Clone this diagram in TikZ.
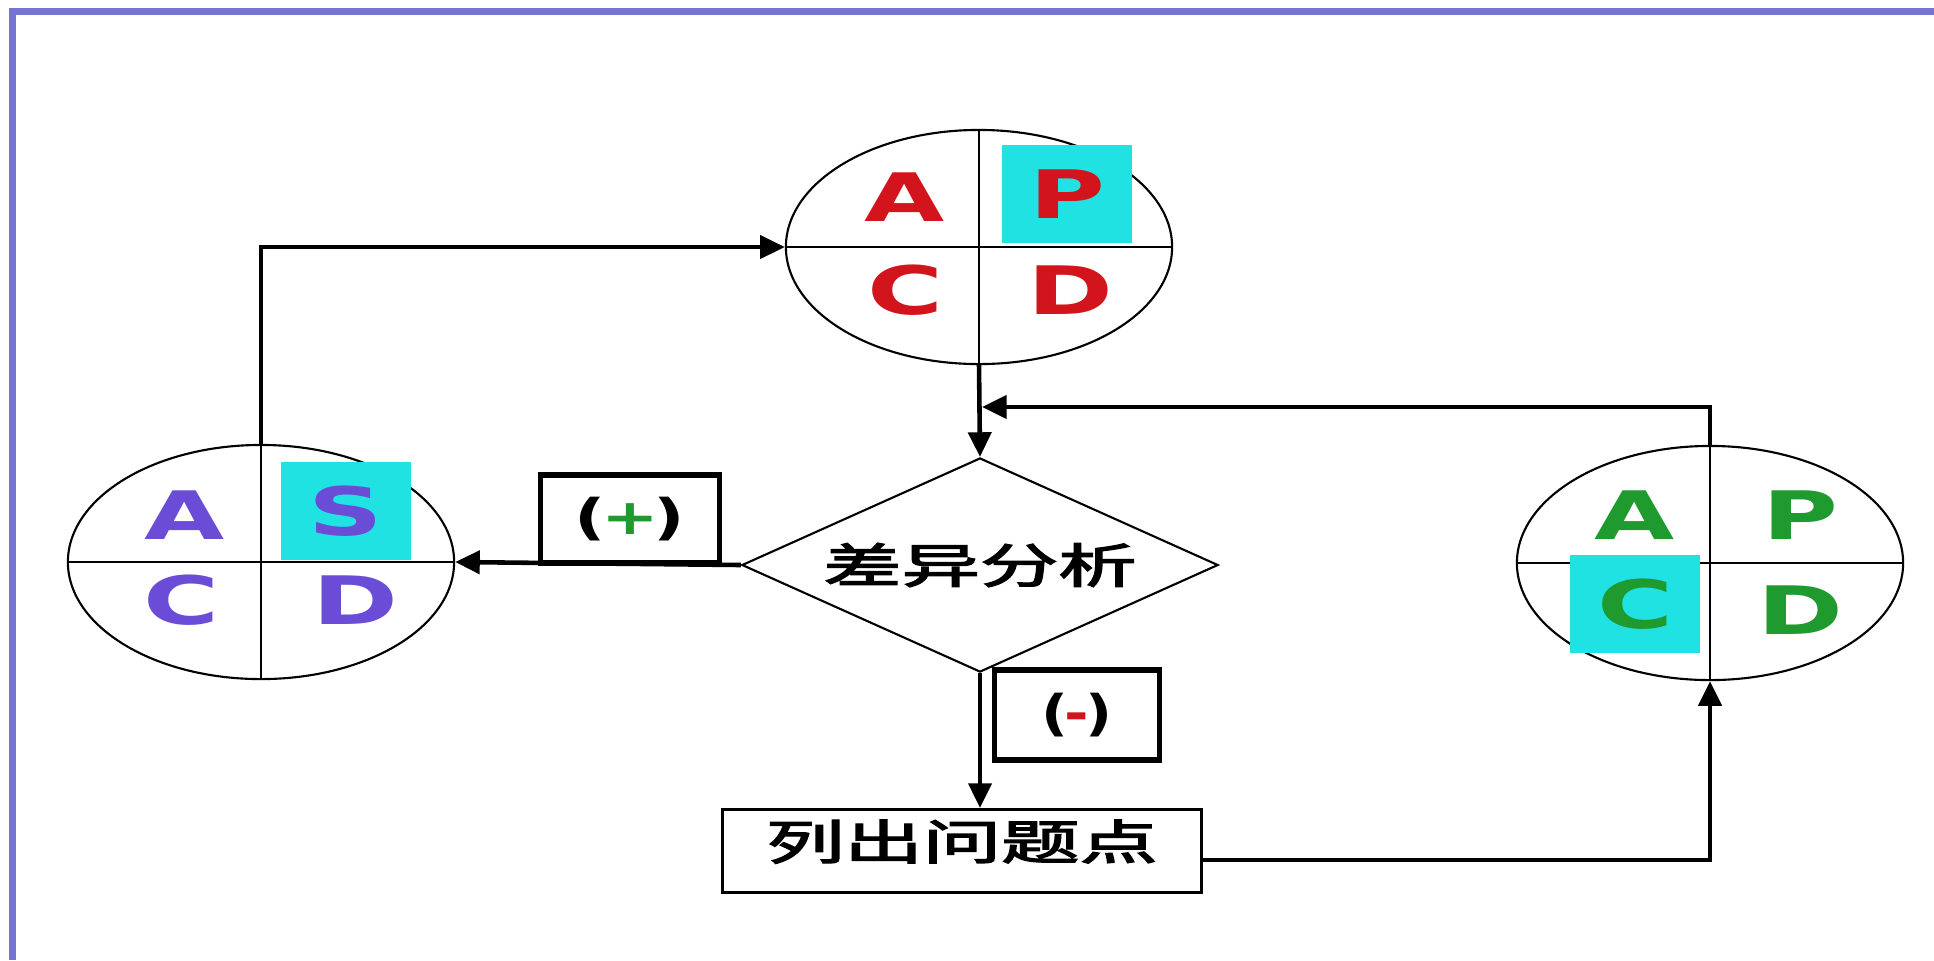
\documentclass[tikz,border=0pt]{standalone}
\usepackage{fontspec}
\setmainfont{DejaVu Sans}
\newfontfamily\cjk[FakeBold=2.5]{Noto Sans CJK SC}
\usepackage{graphicx}
\usepackage{xcolor}
\usetikzlibrary{arrows.meta, shapes.geometric, positioning, calc}

\definecolor{frame}{HTML}{7575D0}
\definecolor{hilite}{HTML}{20E2E2}
\definecolor{pred}{HTML}{D2141C}
\definecolor{pgreen}{HTML}{1E9A2E}
\definecolor{ppurple}{HTML}{6A4CD6}

\newcommand{\wide}[2][1.55]{\scalebox{#1}[1]{#2}}

\begin{document}
\begin{tikzpicture}[x=0.01cm, y=-0.01cm, >={Triangle[length=7pt,width=6.5pt]},
    pdca/.style={draw, ellipse, line width=0.6pt, minimum width=3.86cm, minimum height=2.34cm, inner sep=0pt},
    letter/.style={font=\bfseries\fontsize{19}{19}\selectfont, inner sep=0pt},
    hl/.style={fill=hilite, minimum width=1.3cm, minimum height=0.97cm},
    cross/.style={line width=0.8pt},
    conn/.style={line width=1.3pt},
    tag/.style={draw, line width=1.5pt, font=\bfseries\fontsize{14}{14}\selectfont, inner sep=0pt},
    zh/.style={font=\cjk\fontsize{13.5}{13.5}\selectfont}]
  \useasboundingbox (0,0) rectangle (1934,960);
  \fill[frame] (9,8) rectangle (1934,15);
  \fill[frame] (9,8) rectangle (16,960);

  % the three circles
  \node[pdca] (plan) at (979,247) {};
  \node[pdca] (study) at (261,562) {};
  \node[pdca] (check) at (1710,563) {};
  \draw[cross] (plan.north) -- (plan.south) (plan.west) -- (plan.east)
    (study.north) -- (study.south) (study.west) -- (study.east)
    (check.north) -- (check.south) (check.west) -- (check.east);

  \node[letter, pred] (planA) at (905,197) {\wide{A}};
  \node[letter, pred, hl] (planP) at (1067,194) {\wide{P}};
  \node[letter, pred] (planC) at (905,290) {\wide{C}};
  \node[letter, pred] (planD) at (1070,290) {\wide{D}};

  \node[letter, ppurple] (studyA) at (185,515) {\wide{A}};
  \node[letter, ppurple, hl] (studyS) at (346,511) {\wide{S}};
  \node[letter, ppurple] (studyC) at (182,600) {\wide{C}};
  \node[letter, ppurple] (studyD) at (355,600) {\wide{D}};

  \node[letter, pgreen] (checkA) at (1635,515) {\wide{A}};
  \node[letter, pgreen] (checkP) at (1800,515) {\wide{P}};
  \node[letter, pgreen, hl] (checkC) at (1635,604) {\wide{C}};
  \node[letter, pgreen] (checkD) at (1800,610) {\wide{D}};

  % decision and problem list
  \node[draw, diamond, aspect=2.2, line width=0.6pt, minimum width=4.76cm, minimum height=2.14cm,
    inner sep=0pt, zh] (diff) at (980,565) {\wide[1.65]{差异分析}};
  \node[draw, line width=0.9pt, minimum width=4.78cm, text height=0.5cm, text depth=0.33cm,
    inner ysep=0pt, zh] (issue) at (962,851) {\wide[1.65]{列出问题点}};

  \node[tag, minimum width=1.79cm, minimum height=0.88cm] (plus) at (630,519)
    {\wide[1.4]{(\kern-1pt\textcolor{pgreen}{+}\kern-1pt)}};
  \node[tag, minimum width=1.65cm, minimum height=0.9cm] (minus) at (1077,715)
    {\wide[1.2]{(\kern-1pt\textcolor{pred}{-}\kern-1pt)}};

  \coordinate (join) at (982,407);
  \draw[conn,->] (plan.south) -- (diff.north);
  \draw[conn,->] (diff.west) -- (study.east);
  \draw[conn,->] (diff.south) -- (diff.south |- issue.north);
  \draw[conn,->] ([yshift=-0.09cm]issue.east) -| (check.south);
  \draw[conn,->] (check.north) |- (join);
  \draw[conn,->] (study.north) |- (plan.west);
\end{tikzpicture}
\end{document}
